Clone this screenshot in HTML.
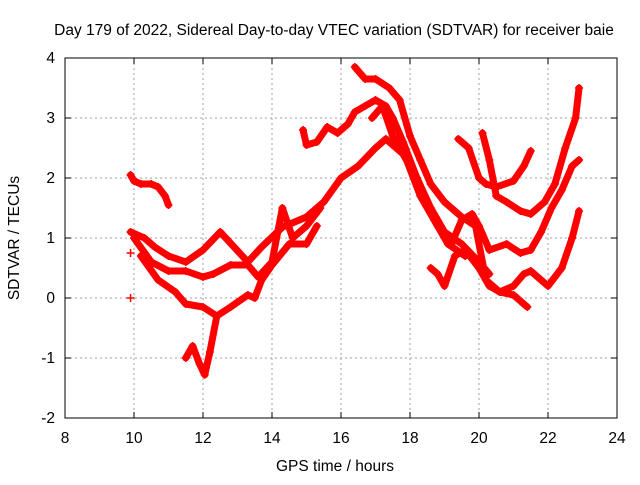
<!DOCTYPE html>
<html><head><meta charset="utf-8"><style>
body{margin:0;background:#fff}
svg text{font-family:"Liberation Sans",sans-serif;font-size:15.5px;fill:#000}
</style></head><body>
<svg width="640" height="480">
<g id="grid"></g>
<rect x="65" y="58" width="552" height="360" fill="none" stroke="#000"/>
<g id="ticks"></g>
<g id="marks"></g>
<text x="334" y="35" text-anchor="middle">Day 179 of 2022, Sidereal Day-to-day VTEC variation (SDTVAR) for receiver baie</text>
<text x="335" y="471" text-anchor="middle">GPS time / hours</text>
<text x="19" y="238" text-anchor="middle" transform="rotate(-90 19 238)">SDTVAR / TECUs</text>
</svg>
<script>
const xTicks=[8,10,12,14,16,18,20,22,24];
const yTicks=[-2,-1,0,1,2,3,4];
const trackA=[[9.9,2.05],[10,1.95],[10.2,1.9],[10.5,1.9],[10.7,1.85],[10.9,1.7],[11,1.55]];
const trackB1=[[9.9,1.1],[10.3,1.0],[10.6,0.85],[11,0.7],[11.5,0.6],[12,0.8],[12.5,1.1],[12.9,0.85],[13.3,0.6],[13.7,0.85],[14.3,1.18],[15,1.35],[15.5,1.6],[16,2.0],[16.5,2.2],[17,2.5],[17.3,2.65],[17.8,2.4],[18.2,2.0],[18.6,1.5],[19,1.1],[19.5,0.9],[20,0.6],[20.3,0.4]];
const trackB2=[[10,1.0],[10.5,0.6],[11,0.45],[11.5,0.45],[12,0.35],[12.3,0.4],[12.8,0.55],[13.3,0.55],[13.6,0.35],[14,0.6],[14.3,1.5],[14.6,1.0],[15,1.2],[15.4,1.5]];
const trackB3=[[10.2,0.7],[10.7,0.3],[11.2,0.1],[11.5,-0.1],[12,-0.15],[12.4,-0.3],[12.8,-0.15],[13.3,0.05],[13.5,0.0],[13.7,0.3],[14,0.55],[14.5,0.9],[15,0.9],[15.3,1.2]];
const trackC=[[12.4,-0.3],[12.2,-0.9],[12.05,-1.28],[11.9,-1.1],[11.7,-0.8],[11.5,-1.0]];
const trackD=[[14.9,2.8],[15,2.55],[15.3,2.6],[15.6,2.85],[15.9,2.75],[16.2,2.9],[16.4,3.1],[16.7,3.2],[17,3.3],[17.3,3.2],[17.5,3.0],[17.8,2.6],[18.2,2.0],[18.5,1.6],[18.8,1.2],[19.2,0.9],[19.5,1.3],[19.8,1.4],[20,1.2],[20.3,0.8],[20.8,0.9],[21.2,0.75],[21.5,0.8],[21.8,1.1],[22.1,1.5],[22.4,1.8],[22.7,2.2],[22.9,2.3]];
const trackE=[[16.4,3.85],[16.7,3.65],[17,3.65],[17.4,3.5],[17.7,3.3],[18,2.7],[18.3,2.3],[18.6,1.9],[19,1.6],[19.5,1.35],[19.9,1.2],[20.2,0.3],[20.6,0.1],[21,0.05],[21.4,-0.15]];
const trackF=[[16.9,3.0],[17.2,3.2],[17.5,2.7],[17.9,2.3],[18.3,1.7],[18.7,1.3],[19.1,0.9],[19.6,0.7]];
const trackG=[[19.4,2.65],[19.7,2.5],[20,2.0],[20.2,1.9],[20.5,1.85],[21,1.95],[21.3,2.2],[21.5,2.45]];
const trackH=[[20.1,2.75],[20.3,2.3],[20.5,1.7],[20.8,1.6],[21.2,1.45],[21.5,1.4],[21.9,1.6],[22.2,1.9],[22.5,2.5],[22.8,3.0],[22.9,3.5]];
const trackI=[[18.6,0.5],[18.8,0.4],[19,0.2],[19.3,0.7],[19.6,0.8],[20,0.5],[20.3,0.2],[20.6,0.1],[21,0.2],[21.3,0.4],[21.5,0.45],[21.8,0.3],[22,0.2],[22.4,0.5],[22.7,1.0],[22.9,1.45]];
const outliers=[[9.9,0.75],[9.9,0.0]];
const tracks=[trackA,trackB1,trackB2,trackB3,trackC,trackD,trackE,trackF,trackG,trackH,trackI];
const NS='http://www.w3.org/2000/svg';
const sx=h=>65+(h-8)*552/16, sy=v=>298-v*60;
const grid=document.getElementById('grid'),ticks=document.getElementById('ticks'),marks=document.getElementById('marks');
function mk(t,a){const e=document.createElementNS(NS,t);for(const k in a)e.setAttribute(k,a[k]);return e;}
xTicks.forEach(t=>{const x=sx(t);
 if(t>8&&t<24){const g=mk('line',{x1:x,x2:x,y1:58,y2:418,stroke:'#a0a0a0','stroke-dasharray':'2,3'});
 
 grid.appendChild(g);}
 const a=mk('line',{x1:x,x2:x,y1:418,y2:412,stroke:'#000'});
 ticks.appendChild(a);
 const b=mk('line',{x1:x,x2:x,y1:58,y2:64,stroke:'#000'});
 ticks.appendChild(b);
 const l=mk('text',{x:x,y:443,'text-anchor':'middle'});l.textContent=t;
 
 ticks.appendChild(l);});
yTicks.forEach(t=>{const y=sy(t);
 if(t>-2&&t<4){const g=mk('line',{x1:65,x2:617,y1:y,y2:y,stroke:'#a0a0a0','stroke-dasharray':'2,3'});
 
 grid.appendChild(g);}
 const a=mk('line',{x1:65,x2:71,y1:y,y2:y,stroke:'#000'});
 ticks.appendChild(a);
 const b=mk('line',{x1:611,x2:617,y1:y,y2:y,stroke:'#000'});
 ticks.appendChild(b);
 const l=mk('text',{x:55,y:y+5,'text-anchor':'end'});l.textContent=t;
 
 ticks.appendChild(l);});
function plus(h,v){const x=sx(h),y=sy(v);
 const p=mk('path',{d:`M${x-4} ${y}H${x+4}M${x} ${y-4}V${y+4}`,stroke:'#f00','stroke-width':1.5});
 
 marks.appendChild(p);}
tracks.forEach(tr=>{
 const pl=mk('polyline',{points:tr.map(p=>sx(p[0])+','+sy(p[1])).join(' '),fill:'none',stroke:'#f00','stroke-width':7,'stroke-linejoin':'round','stroke-linecap':'round'});
 
 marks.appendChild(pl);
 tr.forEach(p=>plus(p[0],p[1]));});
outliers.forEach(p=>plus(p[0],p[1]));
</script>
</body></html>
